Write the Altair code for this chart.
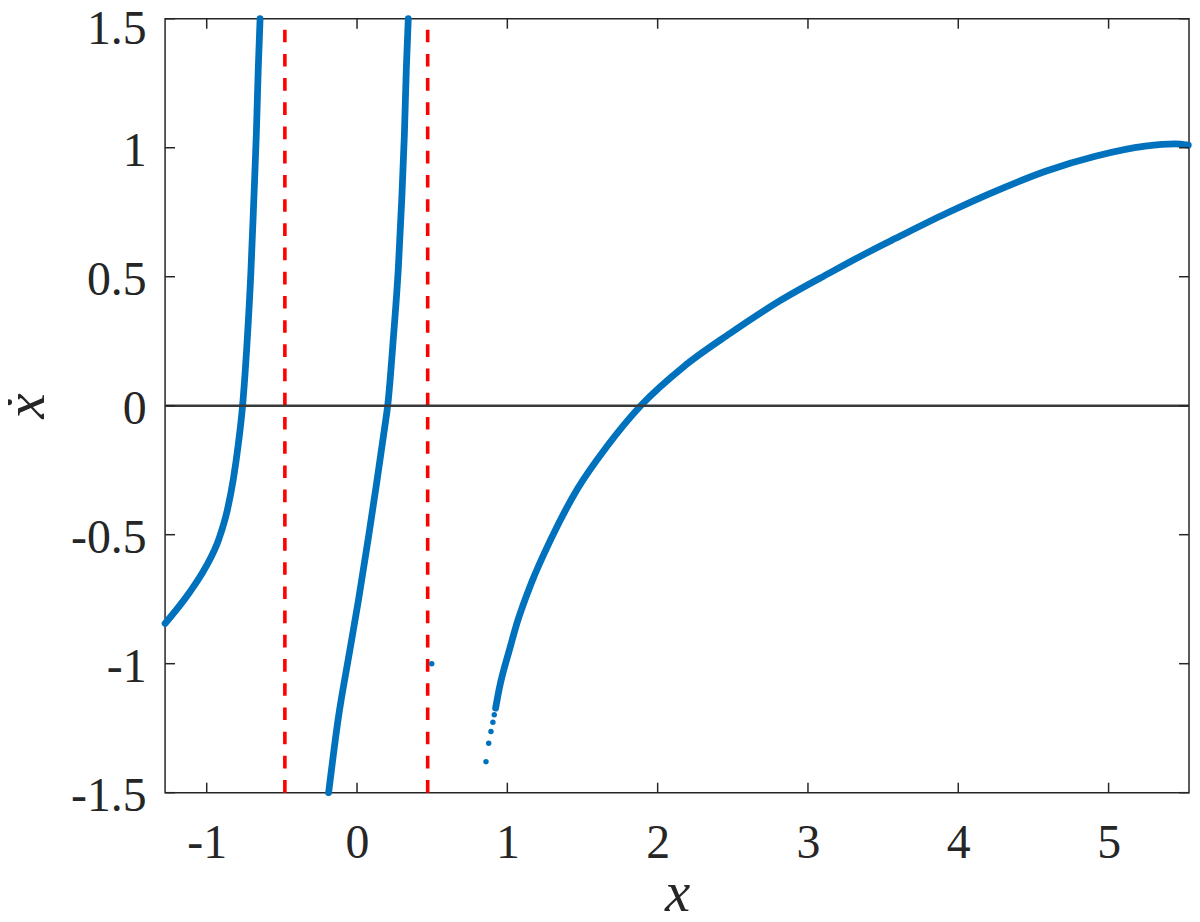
import altair as alt
import pandas as pd

# ---- data ----
x_ticks = [-1, 0, 1, 2, 3, 4, 5]
y_ticks = [-1.5, -1, -0.5, 0, 0.5, 1, 1.5]
x_domain = [-1.277, 5.535]
y_domain = [-1.5, 1.5]

# branch left of the first pole
c1_x = [-1.277, -1.116, -1.006, -0.918, -0.863, -0.823, -0.790, -0.763,
        -0.730, -0.706, -0.687, -0.670, -0.657, -0.645]
c1_y = [-0.844, -0.725, -0.625, -0.515, -0.405, -0.285, -0.150, -0.010,
        0.260, 0.520, 0.793, 1.051, 1.308, 1.5]
# branch between the poles
c2_x = [-0.189, -0.123, -0.056, 0.010, 0.076, 0.131, 0.187, 0.204,
        0.242, 0.275, 0.297, 0.315, 0.328, 0.341]
c2_y = [-1.5, -1.205, -0.975, -0.752, -0.510, -0.298, -0.072, 0.0,
        0.265, 0.536, 0.793, 1.051, 1.308, 1.5]
# right branch (continuous part)
c3_x = [0.922, 0.945, 1.015, 1.070, 1.158, 1.290, 1.467, 1.666, 1.887,
        2.174, 2.483, 2.814, 3.145, 3.433, 3.587, 3.918, 4.249, 4.581,
        4.912, 5.243, 5.442, 5.530]
c3_y = [-1.172, -1.100, -0.944, -0.832, -0.690, -0.517, -0.322, -0.155, 0.0,
        0.152, 0.281, 0.407, 0.515, 0.605, 0.650, 0.745, 0.832, 0.909,
        0.967, 1.006, 1.015, 1.010]
# separate sample points
dots_x = [0.858, 0.876, 0.891, 0.904, 0.913, 0.497]
dots_y = [-1.380, -1.308, -1.263, -1.227, -1.198, -1.0]

# asymptotes and zero line
red_x = [-0.48, 0.47]
zero_y = [0]

# ---- tables ----
curves = pd.concat([
    pd.DataFrame({"x": c1_x, "y": c1_y, "seg": "a"}),
    pd.DataFrame({"x": c2_x, "y": c2_y, "seg": "b"}),
    pd.DataFrame({"x": c3_x, "y": c3_y, "seg": "c"}),
], ignore_index=True)
dots = pd.DataFrame({"x": dots_x, "y": dots_y})
reds = pd.DataFrame({"x": red_x, "y": [y_domain[0]] * len(red_x),
                     "y2": [y_domain[1]] * len(red_x)})
zero = pd.DataFrame({"y": zero_y})
xt = pd.DataFrame({"x": x_ticks})
yt = pd.DataFrame({"y": y_ticks})

W, H = 1028, 777
AX = "#262626"
SERIF = "Liberation Serif"
BLUE = "#0072BD"

xaxis = alt.Axis(values=x_ticks, title="x", grid=False, domain=False,
                 ticks=False, tickSize=0, labelFont=SERIF, labelFontSize=48,
                 labelColor=AX, labelBaseline="alphabetic", labelPadding=65,
                 labelFlush=False, labelOverlap=False, labelBound=False,
                 labelExpr="'' + datum.value",
                 titleFont=SERIF, titleFontSize=57, titleFontStyle="italic",
                 titleFontWeight="normal", titleColor=AX,
                 titleBaseline="alphabetic", titleX=W / 2, titleY=118,
                 titleAlign="center")
yaxis = alt.Axis(values=y_ticks, title="x\u0307", grid=False, domain=False,
                 ticks=False, tickSize=0, labelFont=SERIF, labelFontSize=48,
                 labelColor=AX, labelAlign="right", labelBaseline="alphabetic",
                 labelOffset={"condition": {"test": "datum.value >= 1.5",
                                            "value": 25}, "value": 18},
                 labelPadding=19,
                 labelFlush=False, labelOverlap=False, labelBound=False,
                 labelExpr="'' + datum.value",
                 titleFont=SERIF, titleFontSize=57, titleFontStyle="italic",
                 titleFontWeight="normal", titleColor=AX, titleAngle=270,
                 titleBaseline="alphabetic", titleAlign="center",
                 titleX=-122, titleY=H / 2)

xs = alt.Scale(domain=x_domain, nice=False, zero=False)
ys = alt.Scale(domain=y_domain, nice=False, zero=False)
X = alt.X("x:Q", scale=xs, axis=xaxis)
Y = alt.Y("y:Q", scale=ys, axis=yaxis)

red_layer = alt.Chart(reds).mark_rule(
    color="#FF0000", strokeWidth=3.6, strokeDash=[12.7, 11.6]
).encode(x=X, y=Y, y2="y2:Q")

curve_layer = alt.Chart(curves).mark_line(
    color=BLUE, strokeWidth=6.8, strokeCap="round", strokeJoin="round",
    interpolate="monotone", clip=False
).encode(x=X, y=Y, detail="seg:N")

dot_layer = alt.Chart(dots).mark_circle(
    color=BLUE, size=30, opacity=1
).encode(x=X, y=Y)

zero_layer = alt.Chart(zero).mark_rule(
    color="#3a3a3a", strokeWidth=2.4
).encode(y=Y)

TL = 10
xt_bottom = alt.Chart(xt).mark_rule(color=AX, strokeWidth=1.5).encode(
    x=X, y=alt.value(H), y2=alt.value(H - TL))
xt_top = alt.Chart(xt).mark_rule(color=AX, strokeWidth=1.5).encode(
    x=X, y=alt.value(0), y2=alt.value(TL))
yt_left = alt.Chart(yt).mark_rule(color=AX, strokeWidth=1.5).encode(
    y=Y, x=alt.value(0), x2=alt.value(TL))
yt_right = alt.Chart(yt).mark_rule(color=AX, strokeWidth=1.5).encode(
    y=Y, x=alt.value(W), x2=alt.value(W - TL))

chart = alt.layer(
    red_layer, curve_layer, dot_layer, zero_layer,
    xt_bottom, xt_top, yt_left, yt_right
).properties(
    width=W, height=H,
    autosize=alt.AutoSizeParams(type="none"),
    padding={"left": 157.7, "top": 9, "right": 3, "bottom": 120},
    background="white",
).configure_view(stroke=AX, strokeWidth=1.5)

chart.save("out.html", embed_options={"renderer": "svg", "actions": False})
